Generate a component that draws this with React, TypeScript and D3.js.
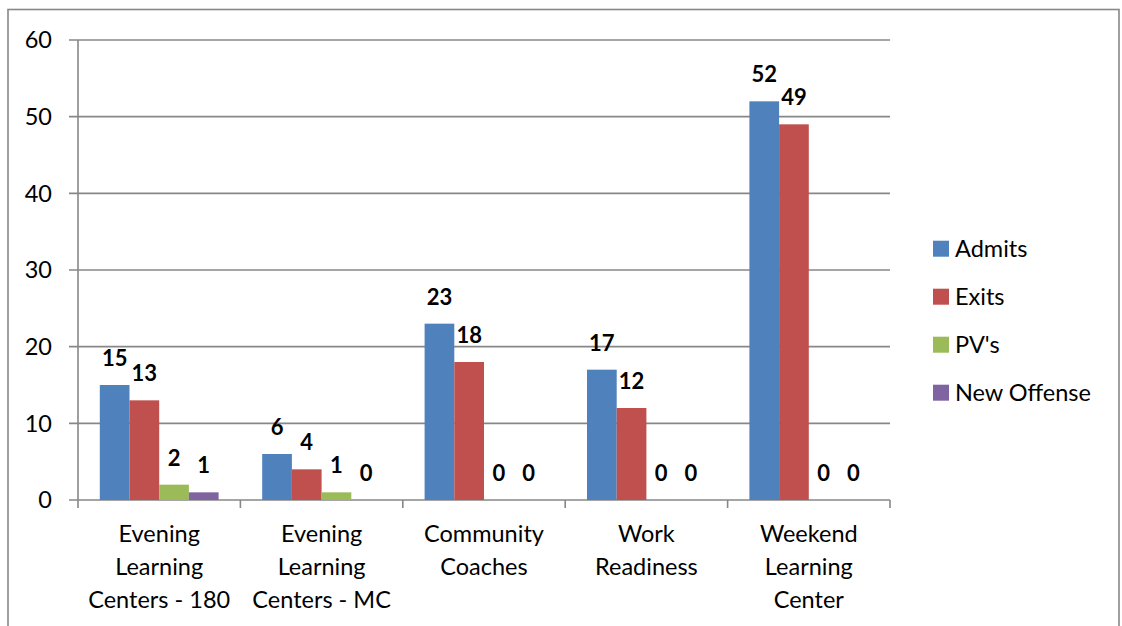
import React from "react";
import * as d3 from "d3";

const categories: string[][] = [
  ["Evening", "Learning", "Centers - 180"],
  ["Evening", "Learning", "Centers - MC"],
  ["Community", "Coaches"],
  ["Work", "Readiness"],
  ["Weekend", "Learning", "Center"],
];
const seriesNames = ["Admits", "Exits", "PV's", "New Offense"];
const seriesColors = ["#4F81BD", "#C0504D", "#9BBB59", "#8064A2"];
const admits = [15, 6, 23, 17, 52];
const exits = [13, 4, 18, 12, 49];
const pvs = [2, 1, 0, 0, 0];
const newOffense = [1, 0, 0, 0, 0];
const yTicks = [0, 10, 20, 30, 40, 50, 60];

const W = 1122;
const H = 626;
const plot = { left: 78, right: 890, top: 40, bottom: 500 };
const FONT = "Lato, 'Open Sans', sans-serif";
const FS = 23.5;

export default function App() {
  const series = [admits, exits, pvs, newOffense];
  const x = d3
    .scaleBand<number>()
    .domain(d3.range(categories.length))
    .range([plot.left, plot.right])
    .paddingInner(0)
    .paddingOuter(0);
  const inner = d3
    .scaleBand<number>()
    .domain(d3.range(series.length))
    .range([0, x.bandwidth()])
    .paddingOuter(0.734);
  const y = d3.scaleLinear().domain([0, 60]).range([plot.bottom, plot.top]);
  const grid = "#878787";
  const boundaries = d3.range(categories.length + 1).map((i) =>
    i < categories.length ? (x(i) as number) : plot.right
  );

  return (
    <svg
      width={W}
      height={H}
      style={{ position: "absolute", left: 0, top: 0, background: "#fff" }}
      fontFamily={FONT}
    >
      <rect x={8} y={9.5} width={1111} height={640} fill="none" stroke="#888" strokeWidth={1.6} />
      {yTicks.map((t) => (
        <g key={t}>
          <line x1={69} x2={plot.right} y1={y(t)} y2={y(t)} stroke={grid} strokeWidth={1.6} />
          <text x={52} y={y(t)} dy="0.36em" textAnchor="end" fontSize={FS} fill="#000">
            {t}
          </text>
        </g>
      ))}
      <line x1={plot.left} x2={plot.left} y1={plot.top} y2={plot.bottom} stroke={grid} strokeWidth={1.6} />
      {boundaries.map((b, i) => (
        <line key={i} x1={b} x2={b} y1={plot.bottom} y2={plot.bottom + 8} stroke={grid} strokeWidth={1.6} />
      ))}
      {series.map((vals, si) =>
        vals.map((v, ci) => {
          const bx = (x(ci) as number) + (inner(si) as number);
          const bw = inner.bandwidth();
          return (
            <g key={`${si}-${ci}`}>
              {v > 0 && (
                <rect x={bx} y={y(v)} width={bw} height={plot.bottom - y(v)} fill={seriesColors[si]} />
              )}
              <text
                x={bx + bw / 2}
                y={y(v) - 19}
                textAnchor="middle"
                fontSize={22}
                fontWeight="bold"
                fill="#000"
              >
                {v}
              </text>
            </g>
          );
        })
      )}
      {categories.map((lines, ci) => (
        <text key={ci} textAnchor="middle" fontSize={FS} fill="#000">
          {lines.map((l, li) => (
            <tspan key={li} x={(x(ci) as number) + x.bandwidth() / 2} y={534 + li * 33} dy="0.36em">
              {l}
            </tspan>
          ))}
        </text>
      ))}
      {seriesNames.map((n, i) => {
        const cy = 248.7 + i * 48;
        return (
          <g key={n}>
            <rect x={933} y={cy - 8} width={16} height={16} fill={seriesColors[i]} />
            <text x={955} y={cy} dy="0.36em" fontSize={FS} fill="#000">
              {n}
            </text>
          </g>
        );
      })}
    </svg>
  );
}
